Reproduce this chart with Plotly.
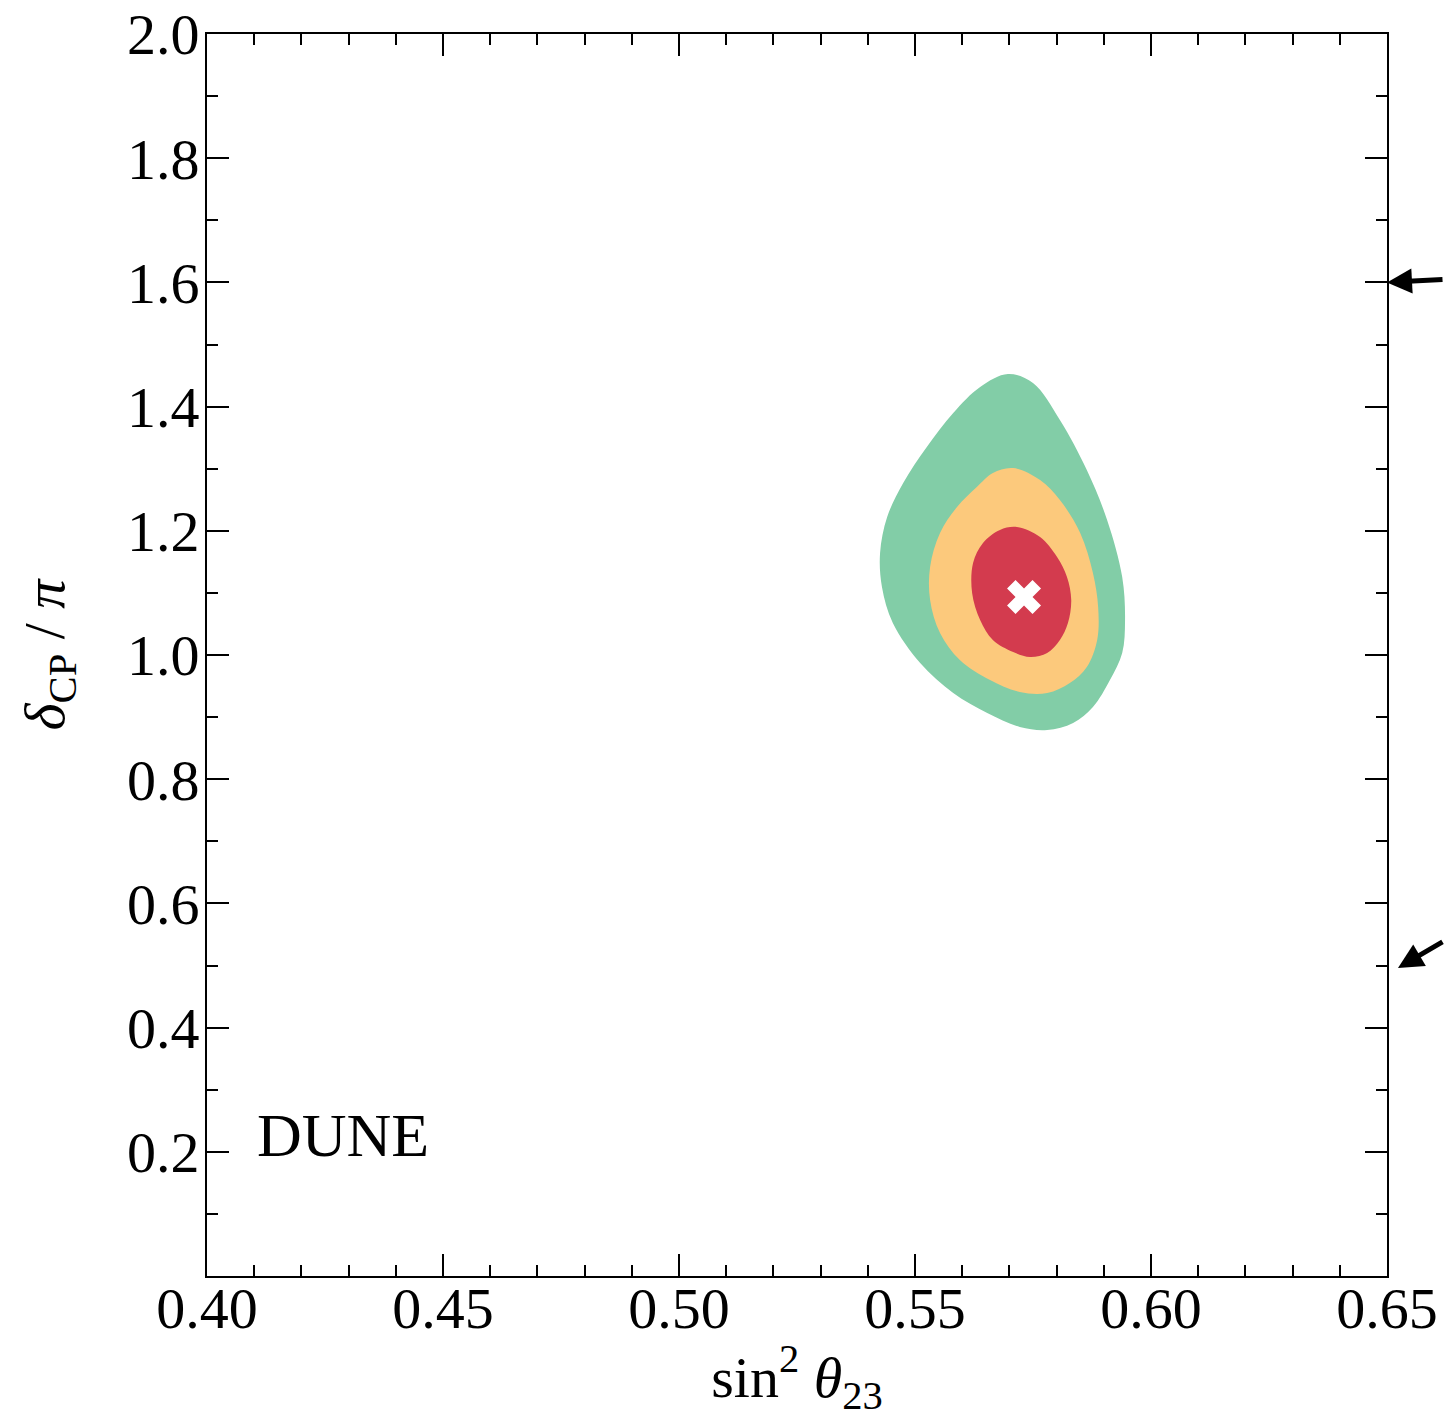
import plotly.graph_objects as go

# Allowed-region boundaries in the (sin^2 theta23, delta_CP/pi) plane
outer_x = [0.5697, 0.5750, 0.5807, 0.5864, 0.5907, 0.5939, 0.5945, 0.5939, 0.5913, 0.5877,
           0.5835, 0.5780, 0.5722, 0.5653, 0.5581, 0.5511, 0.5453, 0.5430, 0.5426, 0.5441,
           0.5475, 0.5525, 0.5581, 0.5638]
outer_y = [1.4525, 1.4380, 1.3784, 1.2979, 1.2174, 1.1256, 1.0564, 1.0032, 0.9597, 0.9163,
           0.8905, 0.8792, 0.8841, 0.9066, 0.9388, 0.9871, 1.0515, 1.1095, 1.1643, 1.2222,
           1.2770, 1.3349, 1.3897, 1.4316]

middle_x = [0.5708, 0.5765, 0.5807, 0.5850, 0.5877, 0.5888, 0.5886, 0.5864, 0.5828, 0.5780,
            0.5722, 0.5659, 0.5595, 0.5553, 0.5532, 0.5532, 0.5553, 0.5589, 0.5631, 0.5665]
middle_y = [1.3011, 1.2818, 1.2496, 1.1965, 1.1320, 1.0773, 1.0242, 0.9807, 0.9549, 0.9388,
            0.9404, 0.9597, 0.9919, 1.0354, 1.0886, 1.1417, 1.1965, 1.2383, 1.2705, 1.2931]

inner_x = [0.5716, 0.5765, 0.5801, 0.5822, 0.5831, 0.5824, 0.5807, 0.5780, 0.5744, 0.5708,
           0.5665, 0.5638, 0.5621, 0.5623, 0.5644, 0.5680]
inner_y = [1.2061, 1.1900, 1.1578, 1.1256, 1.0886, 1.0515, 1.0242, 1.0032, 0.9968, 1.0048,
           1.0242, 1.0564, 1.0998, 1.1481, 1.1804, 1.2013]

best_fit_x = [0.5731]
best_fit_y = [1.0934]

x_tick_vals = [0.40, 0.45, 0.50, 0.55, 0.60, 0.65]
x_tick_text = ["0.40", "0.45", "0.50", "0.55", "0.60", "0.65"]
y_tick_vals = [0.2, 0.4, 0.6, 0.8, 1.0, 1.2, 1.4, 1.6, 1.8, 2.0]
y_tick_text = ["0.2", "0.4", "0.6", "0.8", "1.0", "1.2", "1.4", "1.6", "1.8", "2.0"]

# delta_CP/pi values marked by arrows beside the right edge:
# (value, horizontal paper position of the tip, tail dx, tail dy)
arrow_targets = [(1.6, 1.0, 60, -3), (0.496, 1.0093, 50, -27)]

GREEN = "#82CDA7"
ORANGE = "#FCC97C"
RED = "#D33B4E"
FONT = "Liberation Serif"

fig = go.Figure()


def closed(xs, ys):
    return xs + xs[:1], ys + ys[:1]


for xs, ys, col in [(outer_x, outer_y, GREEN), (middle_x, middle_y, ORANGE), (inner_x, inner_y, RED)]:
    cx, cy = closed(xs, ys)
    fig.add_trace(go.Scatter(
        x=cx, y=cy, mode="lines", fill="toself", fillcolor=col,
        line=dict(width=0, color=col, shape="spline", smoothing=1.0),
        hoverinfo="skip", showlegend=False,
    ))

fig.add_trace(go.Scatter(
    x=best_fit_x, y=best_fit_y, mode="markers",
    marker=dict(symbol="x", size=30, color="white", line=dict(width=0)),
    showlegend=False,
))

fig.add_annotation(x=0.4102, y=0.227, xref="x", yref="y", text="DUNE",
                   showarrow=False, xanchor="left", yanchor="middle",
                   font=dict(family=FONT, size=62, color="black"))

for ty, px, ax, ay in arrow_targets:
    fig.add_annotation(x=px, y=ty, xref="paper", yref="y", ax=ax, ay=ay, text="",
                       showarrow=True, arrowhead=2, arrowsize=1, arrowwidth=5,
                       arrowcolor="black", standoff=0)

axis_common = dict(
    showline=True, linecolor="black", linewidth=1.8, mirror="allticks",
    ticks="inside", ticklen=22, tickwidth=1.8, tickcolor="black",
    showgrid=False, zeroline=False,
    tickfont=dict(family=FONT, size=58, color="black"),
)

fig.update_xaxes(
    range=[0.40, 0.65], tickvals=x_tick_vals, ticktext=x_tick_text,
    ticklabelstandoff=-20,
    minor=dict(dtick=0.01, tick0=0.40, ticks="inside", ticklen=11, tickwidth=1.8, tickcolor="black", showgrid=False),
    title=dict(text="sin<sup>2</sup> <i>θ</i><sub>23</sub>", font=dict(family=FONT, size=58, color="black"), standoff=36),
    **axis_common,
)
fig.update_yaxes(
    range=[0.0, 2.0], tickvals=y_tick_vals, ticktext=y_tick_text,
    ticklabelstandoff=-6,
    minor=dict(dtick=0.1, tick0=0.0, ticks="inside", ticklen=11, tickwidth=1.8, tickcolor="black", showgrid=False),
    title=dict(text="<i>δ</i><sub>CP</sub> / <i>π</i>", font=dict(family=FONT, size=58, color="black"), standoff=44),
    **axis_common,
)

fig.update_layout(
    width=1444, height=1418,
    margin=dict(l=207, r=57, t=34, b=142, autoexpand=False),
    plot_bgcolor="white", paper_bgcolor="white",
    showlegend=False,
)

fig.write_html("out.html")
